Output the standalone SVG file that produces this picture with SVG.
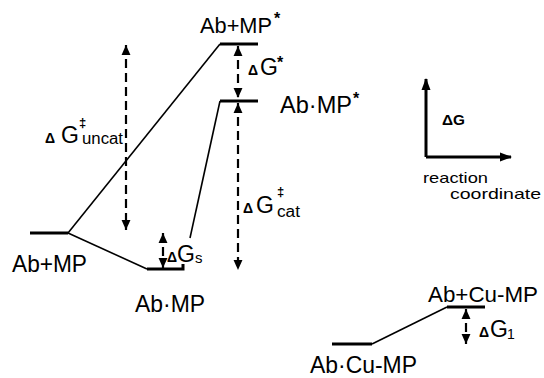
<svg xmlns="http://www.w3.org/2000/svg" width="544" height="378" viewBox="0 0 544 378">
<style>
text{font-family:"Liberation Sans","DejaVu Sans",Arial,sans-serif;fill:#000}
.lbl{font-size:24px}
.g{font-size:23px}
.lvl{stroke:#000;stroke-width:3;fill:none}
.con{stroke:#000;stroke-width:1.6;fill:none}
.dash{stroke:#000;stroke-width:2.2;stroke-dasharray:9 5;fill:none;marker-start:url(#ah);marker-end:url(#ah)}
.axis{stroke:#000;stroke-width:3;fill:none;marker-end:url(#ax)}
.d{font-size:14px;font-weight:bold}
.sub{font-size:16px}
.st{font-size:16px;font-weight:bold}
.dg{font-size:14px;font-weight:bold}
</style>
<defs>
<marker id="ah" markerUnits="userSpaceOnUse" markerWidth="10" markerHeight="10" viewBox="0 0 9 8" refX="9" refY="4" orient="auto-start-reverse"><path d="M0,0 L9,4 L0,8 z" fill="#000"/></marker>
<marker id="ax" markerUnits="userSpaceOnUse" markerWidth="12" markerHeight="10" viewBox="0 0 12 9" refX="11" refY="4.5" orient="auto"><path d="M0,0 L12,4.5 L0,9 z" fill="#000"/></marker>
</defs>
<rect width="544" height="378" fill="#fff"/>

<g id="connectors">
<path class="con" d="M68,233 L220,44"/>
<path class="con" d="M68,233 L147,269"/>
<path class="con" d="M220,101 L190,238"/>
<path class="con" d="M372,344 L447,307"/>
<path class="dash" d="M126,45 L126,230"/>
<path class="dash" d="M238,46 L238,98"/>
<path class="dash" d="M238,103 L238,270"/>
<path class="dash" d="M163,233 L163,268"/>
<path class="dash" d="M466,309 L466,344"/>
</g>

<g id="ab-mp">
<path class="lvl" d="M30,233 L68,233"/>
<text class="lbl" x="12" y="272" textLength="75" lengthAdjust="spacingAndGlyphs">Ab+MP</text>
</g>

<g id="ab-mp-star-free">
<path class="lvl" d="M220,44 L258,44"/>
<text x="200" y="33" font-size="22" textLength="72" lengthAdjust="spacingAndGlyphs">Ab+MP</text>
<text class="st" x="274" y="24">*</text>
</g>

<g id="ab-mp-complex-star">
<path class="lvl" d="M220,101 L258,101"/>
<text class="lbl" x="280" y="113" textLength="72" lengthAdjust="spacingAndGlyphs">Ab·MP</text>
<text class="st" x="353" y="104">*</text>
</g>

<g id="ab-mp-complex">
<path class="lvl" d="M147,269 L183,269 L183,264"/>
<text class="lbl" x="135" y="312" textLength="70" lengthAdjust="spacingAndGlyphs">Ab·MP</text>
</g>

<g id="ab-cu-mp">
<path class="lvl" d="M447,307 L485,307"/>
<text x="428" y="302" font-size="22.5" textLength="110" lengthAdjust="spacingAndGlyphs">Ab+Cu-MP</text>
</g>

<g id="ab-cu-mp-complex">
<path class="lvl" d="M332,344 L372,344"/>
<text class="lbl" x="310" y="373" textLength="107" lengthAdjust="spacingAndGlyphs">Ab·Cu-MP</text>
</g>

<g id="labels">
<text y="143"><tspan class="d" x="45">Δ</tspan><tspan class="g" x="61">G</tspan><tspan font-size="13" font-weight="bold" x="79" y="127">‡</tspan><tspan class="sub" x="82" y="144" textLength="41" lengthAdjust="spacingAndGlyphs">uncat</tspan></text>
<text y="75"><tspan class="d" x="248">Δ</tspan><tspan class="g" x="260">G</tspan><tspan class="st" x="277" y="68">*</tspan></text>
<text y="213"><tspan class="d" x="243">Δ</tspan><tspan class="g" x="256">G</tspan><tspan font-size="13" font-weight="bold" x="277" y="196">‡</tspan><tspan class="sub" x="277" y="217" textLength="23" lengthAdjust="spacingAndGlyphs">cat</tspan></text>
<text y="262"><tspan class="d" x="167">Δ</tspan><tspan class="g" x="177">G</tspan><tspan font-size="15" x="195" y="263">s</tspan></text>
<text y="337"><tspan class="d" x="479">Δ</tspan><tspan class="g" x="490">G</tspan><tspan font-size="14" x="507" y="339">1</tspan></text>
</g>

<g id="axes">
<path class="axis" d="M426,157 L426,79"/>
<path class="axis" d="M426,157 L511,157"/>
<text class="dg" x="442" y="125" textLength="23" lengthAdjust="spacingAndGlyphs">ΔG</text>
<text x="423" y="183" font-size="15" textLength="65" lengthAdjust="spacingAndGlyphs">reaction</text>
<text x="450" y="199" font-size="15" textLength="91" lengthAdjust="spacingAndGlyphs">coordinate</text>
</g>
</svg>
